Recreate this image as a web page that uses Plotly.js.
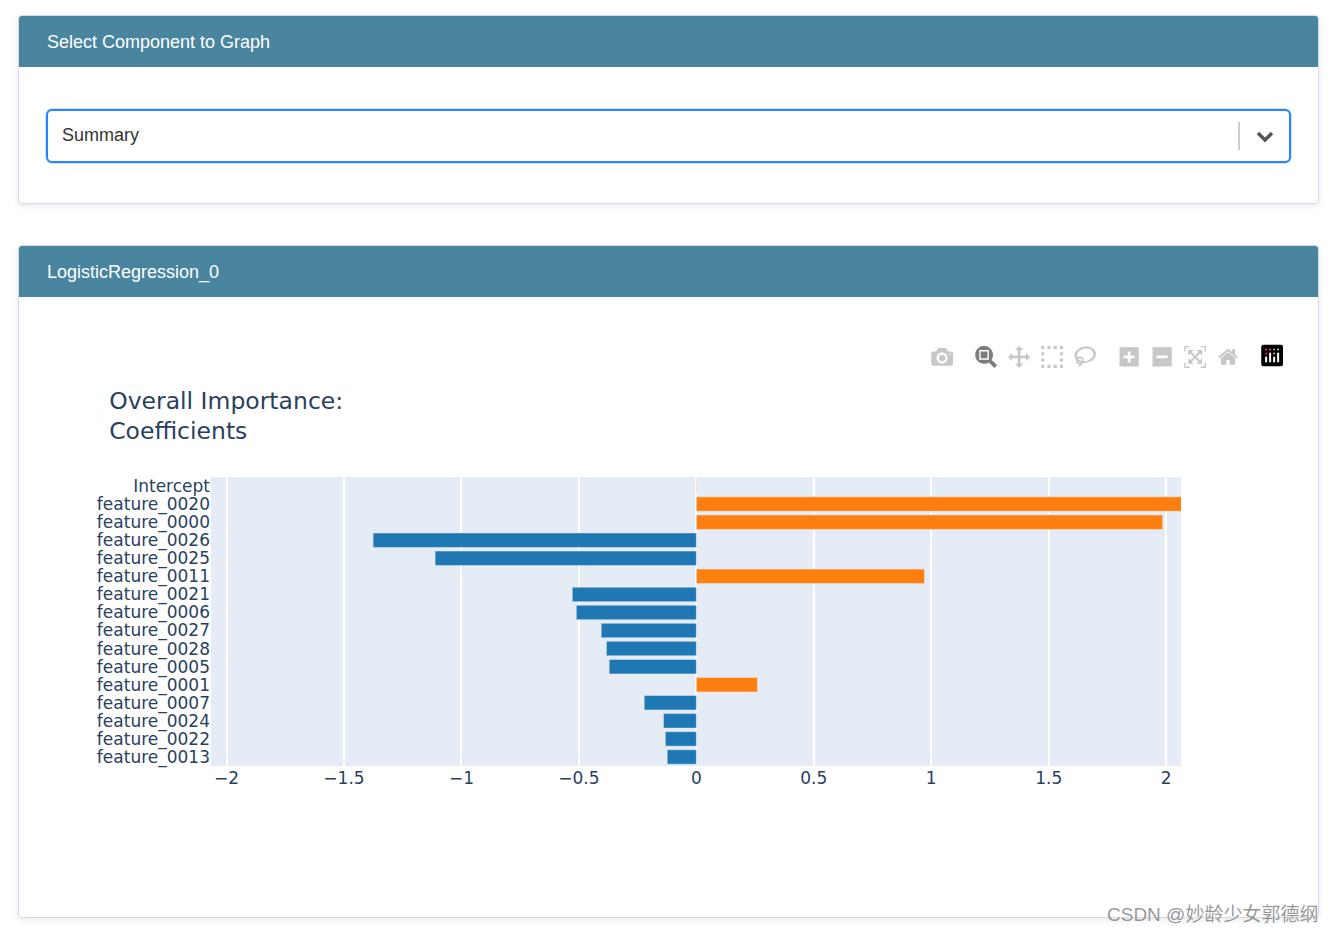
<!DOCTYPE html>
<html>
<head>
<meta charset="utf-8">
<script src="https://cdn.plot.ly/plotly-3.0.1.min.js"></script>
<style>
html,body{margin:0;padding:0;background:#fff;overflow:hidden;width:1333px;height:934px;font-family:"Liberation Sans",Arial,sans-serif;}
.card{position:absolute;left:18px;width:1299px;background:#fff;border:1px solid #d5d9e8;border-radius:4px;box-shadow:0 2px 6px rgba(60,70,110,.12);box-sizing:content-box;}
.hdr{position:absolute;left:0;right:0;top:0;background:#49859f;color:#fff;font-size:18px;border-radius:3px 3px 0 0;}
.hdr span{position:absolute;left:28px;white-space:nowrap;}
#sel{position:absolute;left:46px;top:109px;width:1241px;height:50px;border:2px solid #2684ff;border-radius:6px;background:#fff;box-shadow:0 0 0 1px rgba(38,132,255,.25);}
#sel .v{position:absolute;left:14px;top:14px;font-size:18px;color:#333;}
#sep{position:absolute;left:1190px;top:11px;width:2px;height:28px;background:#ccc;}
#chev{position:absolute;left:1207px;top:20px;width:20px;height:12px;}
#graph{position:absolute;left:47px;top:340px;width:1243px;height:550px;}
#graph .modebar-container{transform:scale(1.375) translate(1px,-1.7px);transform-origin:100% 0;}
#wm{position:absolute;left:1107px;top:899px;font-family:"Liberation Sans","Noto Sans CJK SC",sans-serif;font-size:19px;color:rgba(110,110,110,.72);white-space:nowrap;text-shadow:0 0 1px rgba(255,255,255,.8);}
</style>
</head>
<body>
<div class="card" style="top:15px;height:187px;"><div class="hdr" style="height:51px;"><span style="top:16px;">Select Component to Graph</span></div></div>
<div id="sel"><div class="v">Summary</div><div id="sep"></div>
<svg id="chev" viewBox="0 0 20 12"><path d="M3 2 L10 9 L17 2" fill="none" stroke="#555" stroke-width="3.4"/></svg></div>
<div class="card" style="top:245px;height:671px;"><div class="hdr" style="height:51px;"><span style="top:16px;">LogisticRegression_0</span></div></div>
<div id="graph"></div>
<div id="wm">CSDN @妙龄少女郭德纲</div>
<script>
const features = ["Intercept","feature_0020","feature_0000","feature_0026","feature_0025","feature_0011","feature_0021","feature_0006","feature_0027","feature_0028","feature_0005","feature_0001","feature_0007","feature_0024","feature_0022","feature_0013"];
const coefficients = [0.001,2.066,1.985,-1.376,-1.112,0.971,-0.528,-0.511,-0.405,-0.383,-0.371,0.26,-0.222,-0.14,-0.132,-0.124];
const negativeColor = "#1f77b4";
const positiveColor = "#ff7f0e";
const xTickValues = [-2,-1.5,-1,-0.5,0,0.5,1,1.5,2];
const xTickLabels = ["−2","−1.5","−1","−0.5","0","0.5","1","1.5","2"];
const chartTitle = "Overall Importance:<br>Coefficients";

Plotly.newPlot("graph",[{
  type:"bar",orientation:"h",y:features,x:coefficients,
  marker:{color:coefficients.map(v=>v<0?negativeColor:positiveColor),line:{color:"#E5ECF6",width:0.5}}
}],{
  width:1243,height:550,
  font:{family:'"DejaVu Sans",sans-serif',size:17,color:"#2a3f5f"},
  paper_bgcolor:"rgba(0,0,0,0)",plot_bgcolor:"#E5ECF6",
  title:{text:chartTitle,x:0.05,xanchor:"left",y:0.875,yanchor:"middle",font:{size:23.5,color:"#2a3f5f"}},
  margin:{l:164.4,r:108.6,t:137.2,b:123.8,pad:0},
  bargap:0.2,showlegend:false,
  modebar:{bgcolor:"rgba(0,0,0,0)",color:"rgba(68,68,68,0.3)",activecolor:"rgba(68,68,68,0.7)"},
  xaxis:{range:[-2.066,2.063],tickvals:xTickValues,ticktext:xTickLabels,gridcolor:"#fff",gridwidth:1.5,zerolinecolor:"#fff",zerolinewidth:2,ticks:"",automargin:false,tickfont:{size:17}},
  yaxis:{autorange:false,range:[15.5,-0.5],type:"category",showgrid:false,ticks:"",automargin:false,tickfont:{size:17},dtick:1}
},{displayModeBar:true,displaylogo:true,responsive:false});
</script>
</body>
</html>
